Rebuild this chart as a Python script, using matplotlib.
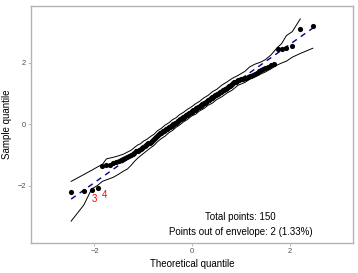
import numpy as np
import matplotlib
matplotlib.use("Agg")
import matplotlib.pyplot as plt
from statistics import NormalDist

# ---------------- data ----------------
n_points = 150
sample_sorted = [
    -2.20, -2.17, -2.13, -2.06, -1.36, -1.33, -1.32, -1.25, -1.22, -1.20,
    -1.17, -1.14, -1.10, -1.06, -1.02, -0.99, -0.95, -0.92, -0.88, -0.85,
    -0.82, -0.79, -0.76, -0.73, -0.70, -0.67, -0.64, -0.62, -0.59, -0.56,
    -0.53, -0.50, -0.47, -0.44, -0.41, -0.38, -0.35, -0.32, -0.29, -0.27,
    -0.25, -0.23, -0.21, -0.19, -0.16, -0.14, -0.12, -0.10, -0.08, -0.06,
    -0.04, -0.02, 0.00, 0.02, 0.04, 0.06, 0.08, 0.10, 0.12, 0.14,
    0.16, 0.18, 0.20, 0.21, 0.23, 0.25, 0.27, 0.29, 0.30, 0.32,
    0.34, 0.36, 0.38, 0.39, 0.41, 0.43, 0.45, 0.46, 0.48, 0.50,
    0.52, 0.54, 0.55, 0.57, 0.59, 0.61, 0.63, 0.65, 0.67, 0.69,
    0.70, 0.72, 0.74, 0.76, 0.78, 0.80, 0.82, 0.84, 0.86, 0.88,
    0.90, 0.92, 0.94, 0.96, 0.98, 1.00, 1.02, 1.04, 1.06, 1.08,
    1.10, 1.12, 1.14, 1.16, 1.18, 1.21, 1.23, 1.25, 1.28, 1.30,
    1.33, 1.36, 1.39, 1.41, 1.43, 1.45, 1.46, 1.47, 1.48, 1.50,
    1.52, 1.54, 1.56, 1.58, 1.61, 1.64, 1.68, 1.72, 1.76, 1.79,
    1.84, 1.87, 1.92, 1.97, 2.44, 2.45, 2.47, 2.53, 3.09, 3.20,
]

env_ranks = [1, 2, 3, 4, 5, 6, 8, 10, 12, 14, 16, 18, 20, 22, 24, 27, 30, 33,
             36, 40, 44, 48, 52, 56, 60, 65, 70, 75, 80, 85, 90, 95, 100, 105,
             110, 115, 120, 125, 130, 133, 136, 139, 141, 143, 145, 146, 147,
             148, 149, 150]
env_lower = [-3.14, -2.62, -2.10, -1.98, -1.85, -1.80, -1.72, -1.62, -1.52, -1.45,
             -1.33, -1.20, -1.10, -1.02, -0.95, -0.85, -0.76, -0.68, -0.57, -0.46,
             -0.38, -0.27, -0.20, -0.10, -0.03, 0.08, 0.16, 0.27, 0.33, 0.44,
             0.51, 0.62, 0.69, 0.81, 0.89, 1.01, 1.11, 1.27, 1.36, 1.46,
             1.54, 1.63, 1.70, 1.80, 1.93, 1.99, 2.05, 2.18, 2.30, 2.47]
env_upper = [-1.85, -1.63, -1.49, -1.38, -1.30, -1.12, -1.07, -1.02, -0.97, -0.90,
             -0.84, -0.75, -0.67, -0.63, -0.55, -0.48, -0.39, -0.32, -0.21, -0.13,
             -0.02, 0.05, 0.15, 0.21, 0.31, 0.39, 0.49, 0.57, 0.67, 0.75,
             0.86, 0.94, 1.06, 1.14, 1.27, 1.37, 1.49, 1.59, 1.72, 1.86,
             1.95, 2.02, 2.10, 2.25, 2.50, 2.62, 2.88, 3.01, 3.42, 3.90]

ref_intercept = 0.35
ref_slope = 1.12
out_ranks = [3, 4]
out_labels = ["3", "4"]
x_limits = (-3, 3)
y_limits = (-3.5, 3.5)
x_ticks = [-2, 0, 2]
y_ticks = [-2, 0, 2]
total_text = "Total points: 150"
out_text = "Points out of envelope: 2 (1.33%)"
x_title = "Theoretical quantile"
y_title = "Sample quantile"

# ---------------- computations ----------------
nd = NormalDist()
theo = np.array([nd.inv_cdf(i / (n_points + 1)) for i in range(1, n_points + 1)])
sample = np.array(sample_sorted)
env_x = theo[np.array(env_ranks) - 1]
lower = np.array(env_lower, dtype=float)
upper = np.array(env_upper, dtype=float)
# values outside the y limits are dropped (as with ggplot limits)
lower[(lower < y_limits[0]) | (lower > y_limits[1])] = np.nan
upper[(upper < y_limits[0]) | (upper > y_limits[1])] = np.nan

plt.rcParams['font.family'] = ['Liberation Sans', 'DejaVu Sans']

fig = plt.figure(figsize=(3.58, 2.73), dpi=100)
ax = fig.add_axes([31 / 358, 1 - 243 / 273, (353 - 31) / 358, (243 - 5.7) / 273])

xr = x_limits[1] - x_limits[0]
yr = y_limits[1] - y_limits[0]
ax.set_xlim(x_limits[0] - 0.05 * xr, x_limits[1] + 0.05 * xr)
ax.set_ylim(y_limits[0] - 0.05 * yr, y_limits[1] + 0.05 * yr)

ax.plot(env_x, lower, color='black', lw=0.7, zorder=2)
ax.plot(env_x, upper, color='black', lw=0.7, zorder=2)

lx = np.array([theo[0], theo[-1]])
ax.plot(lx, ref_intercept + ref_slope * lx, color='#00008B', lw=1.0,
        dashes=(4, 3.5), zorder=3)

ax.scatter(theo, sample, s=14, color='black', zorder=4, linewidths=0)

label_offsets = [(2.0, -6.3), (4.8, -5.3)]
for r, lab, off in zip(out_ranks, out_labels, label_offsets):
    ax.annotate(lab, (theo[r - 1], sample[r - 1]), xytext=off,
                textcoords='offset points', color='#FF0000', fontsize=7,
                ha='center', va='center')

ax.text(1.0, -3.02, total_text, ha='center', va='center', fontsize=7, color='black')
ax.text(1.0, -3.49, out_text, ha='center', va='center', fontsize=7, color='black')

ax.set_xticks(x_ticks)
ax.set_yticks(y_ticks)
ax.set_xticklabels(["\u22122", "0", "2"])
ax.set_yticklabels(["\u22122", "0", "2"])
ax.tick_params(axis='both', length=2.2, width=0.6, color='#B3B3B3',
               labelsize=5.4, labelcolor='#4D4D4D', pad=1.5)
for s in ax.spines.values():
    s.set_color('#B3B3B3')
    s.set_linewidth(1.0)

ax.set_xlabel(x_title, fontsize=7, labelpad=3)
ax.set_ylabel(y_title, fontsize=7, labelpad=4)

fig.savefig('out.png', dpi=100)
